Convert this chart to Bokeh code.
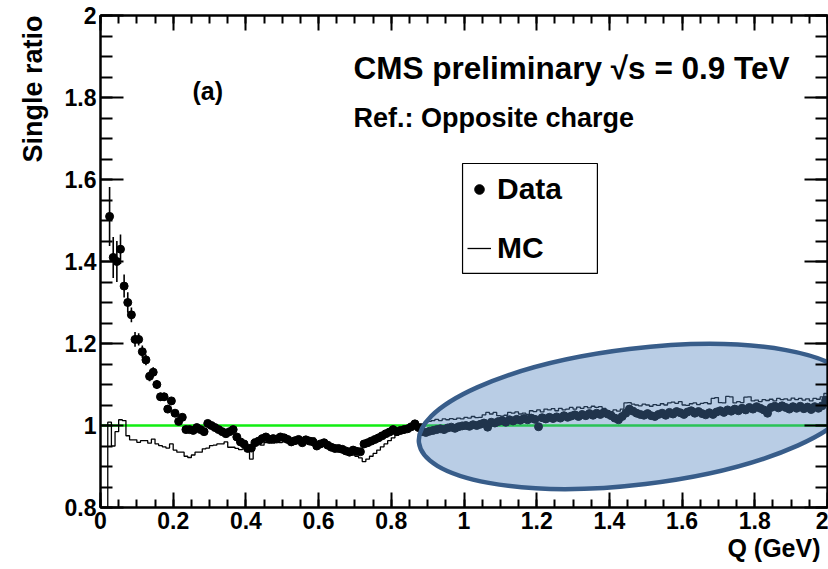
import numpy as np
from bokeh.plotting import figure
from bokeh.models import (Range1d, LinearAxis, SingleIntervalTicker, CustomJSTickFormatter,
                          Span, Label, BoxAnnotation, Legend, LegendItem, Title)
from bokeh.embed import file_html
from bokeh.resources import INLINE

# ---------------- data ----------------
bin_width = 0.01
data_first_edge = 0.02          # first data bin: 0.02-0.03 GeV
data_ratio = [
    1.51, 1.41, 1.40, 1.43, 1.34, 1.30, 1.27, 1.21,
    1.21, 1.18, 1.16, 1.12, 1.13, 1.10, 1.07, 1.07, 1.04, 1.06,
    1.03, 1.01, 1.02, 0.990, 0.990, 0.988, 0.995, 0.990, 0.985, 1.005,
    1.000, 0.995, 0.990, 0.985, 0.980, 0.985, 0.990, 0.972, 0.960, 0.955,
    0.944, 0.945, 0.958, 0.962, 0.968, 0.972, 0.966, 0.968, 0.967, 0.972,
    0.970, 0.966, 0.960, 0.963, 0.966, 0.958, 0.965, 0.962, 0.960, 0.950,
    0.955, 0.958, 0.952, 0.947, 0.944, 0.944, 0.942, 0.938, 0.935, 0.940,
    0.937, 0.936, 0.955, 0.958, 0.962, 0.966, 0.970, 0.975, 0.980, 0.984,
    0.990, 0.985, 0.988, 0.990, 0.992, 0.997, 1.004, 0.995, 0.985, 0.983,
    0.986, 0.988, 0.990, 0.992, 0.990, 0.994, 0.996, 0.993, 0.997, 0.999,
    1.000, 0.998, 1.002, 1.000, 1.003, 1.006, 0.996, 1.008, 1.006, 1.010,
    1.012, 1.008, 1.014, 1.011, 1.015, 1.013, 1.017, 1.014, 1.018, 1.015,
    0.997, 1.019, 1.016, 1.020, 1.017, 1.021, 1.018, 1.024, 1.020, 1.023,
    1.026, 1.022, 1.027, 1.024, 1.029, 1.025, 1.030, 1.027, 1.032, 1.028,
    1.024, 1.018, 1.014, 1.022, 1.030, 1.040, 1.035, 1.030, 1.027, 1.025,
    1.029, 1.024, 1.022, 1.027, 1.030, 1.025, 1.032, 1.028, 1.034, 1.031,
    1.027, 1.033, 1.036, 1.030, 1.034, 1.029, 1.026, 1.031, 1.027, 1.033,
    1.036, 1.032, 1.038, 1.035, 1.040, 1.036, 1.042, 1.038, 1.044, 1.040,
    1.046, 1.042, 1.038, 1.030, 1.044, 1.047, 1.043, 1.048, 1.044, 1.040,
    1.046, 1.042, 1.047, 1.041, 1.045, 1.039, 1.046, 1.042, 1.048, 1.062,
]
# statistical errors of the first bins (later ones are hidden by the markers)
data_err = [0.072, 0.050, 0.050, 0.036, 0.028, 0.025, 0.018, 0.018,
            0.015, 0.015, 0.013, 0.012, 0.012, 0.011, 0.010, 0.010,
            0.009, 0.009, 0.008, 0.008]

mc_first_edge = 0.01            # first MC bin: 0.01-0.02 GeV (empty)
mc_ratio = [
    0.0,
    1.008, 0.950, 0.985, 1.014, 1.012, 0.975, 0.965, 0.965, 0.959, 0.963,
    0.963, 0.957, 0.967, 0.955, 0.951, 0.948, 0.945, 0.955, 0.940, 0.935,
    0.935, 0.925, 0.922, 0.928, 0.935, 0.935, 0.943, 0.945, 0.951, 0.952,
    0.955, 0.955, 0.960, 0.947, 0.947, 0.944, 0.941, 0.943, 0.940, 0.918,
    0.955, 0.957, 0.952, 0.958, 0.960, 0.957, 0.962, 0.958, 0.960, 0.965,
    0.962, 0.967, 0.963, 0.968, 0.972, 0.967, 0.970, 0.958, 0.955, 0.952,
    0.947, 0.945, 0.943, 0.941, 0.937, 0.935, 0.932, 0.928, 0.925, 0.921,
    0.912, 0.918, 0.925, 0.932, 0.940, 0.948, 0.955, 0.963, 0.970, 0.976,
    0.980, 0.984, 0.988, 0.990, 0.994, 1.000, 1.004, 1.008, 1.010, 1.012,
    1.015, 1.012, 1.016, 1.014, 1.017, 1.015, 1.018, 1.016, 1.020, 1.018,
    1.022, 1.019, 1.020, 1.026, 1.032, 1.028, 1.032, 1.024, 1.023, 1.025,
    1.032, 1.030, 1.033, 1.028, 1.030, 1.027, 1.036, 1.034, 1.038, 1.033,
    1.040, 1.038, 1.041, 1.036, 1.042, 1.038, 1.040, 1.044, 1.040, 1.045,
    1.042, 1.046, 1.043, 1.047, 1.044, 1.046, 1.042, 1.036, 1.034, 1.038,
    1.035, 1.040, 1.055, 1.056, 1.052, 1.050, 1.048, 1.052, 1.050, 1.047,
    1.051, 1.049, 1.053, 1.050, 1.055, 1.057, 1.054, 1.058, 1.050, 1.049,
    1.053, 1.055, 1.051, 1.054, 1.056, 1.053, 1.066, 1.068, 1.056, 1.055,
    1.071, 1.070, 1.055, 1.058, 1.056, 1.069, 1.070, 1.060, 1.062, 1.058,
    1.063, 1.061, 1.064, 1.060, 1.066, 1.063, 1.065, 1.062, 1.067, 1.063,
    1.066, 1.062, 1.065, 1.060, 1.066, 1.064, 1.070, 1.078,
]
reference_level = 1.0
x_limits = (0.0, 2.0)
y_limits = (0.8, 2.0)
tick_step = 0.2
x_title = "Q (GeV)"
y_title = "Single ratio"

# ---------------- styles ----------------
FONT = "Liberation Sans"
GREEN = "#11ee11"

p = figure(width=828, height=569, x_range=Range1d(*x_limits), y_range=Range1d(*y_limits),
           output_backend="svg", toolbar_location=None,
           min_border_left=100, min_border_right=1, min_border_top=15, min_border_bottom=62)
p.xaxis.visible = False
p.yaxis.visible = False
p.grid.visible = False
p.outline_line_color = "black"
p.outline_line_width = 2
p.background_fill_color = "white"
p.border_fill_color = "white"

fmt = CustomJSTickFormatter(code="var s = tick.toFixed(1); return s.endsWith('.0') ? s.slice(0, -2) : s;")
blank = CustomJSTickFormatter(code="return '';")


def make_axis(major_in, minor_in, show_labels):
    ax = LinearAxis(ticker=SingleIntervalTicker(interval=tick_step, num_minor_ticks=4),
                    formatter=fmt if show_labels else blank)
    ax.major_tick_in = major_in
    ax.major_tick_out = 0
    ax.minor_tick_in = minor_in
    ax.minor_tick_out = 0
    ax.axis_line_color = "black"
    ax.axis_line_width = 2
    ax.major_tick_line_width = 2
    ax.minor_tick_line_width = 2
    ax.major_tick_line_color = "black"
    ax.minor_tick_line_color = "black"
    ax.major_label_text_font = FONT
    ax.major_label_text_font_style = "bold"
    ax.major_label_text_font_size = "23px"
    ax.major_label_text_color = "black"
    ax.major_label_standoff = 4 if show_labels else 0
    return ax


p.add_layout(make_axis(15, 8, True), "below")
p.add_layout(make_axis(23, 12, True), "left")
p.add_layout(make_axis(15, 8, False), "above")
p.add_layout(make_axis(23, 12, False), "right")

# axis titles (ROOT style: at the far end of each axis)
p.add_layout(Title(text=x_title, align="right", offset=7, standoff=0,
                   text_font=FONT, text_font_style="bold", text_font_size="25px",
                   text_color="black"), "below")
p.add_layout(Title(text=y_title, align="right", offset=0, standoff=27,
                   text_font=FONT, text_font_style="bold", text_font_size="27px",
                   text_color="black"), "left")

# reference line at ratio = 1
span = Span(location=reference_level, dimension="width", line_color=GREEN, line_width=2.5)
span.level = "underlay"
p.add_layout(span)

# MC histogram (step line built from the bin values)
mc_lo = mc_first_edge + bin_width * np.arange(len(mc_ratio))
mc_x = np.column_stack([mc_lo, mc_lo + bin_width]).ravel()
mc_y = np.repeat(mc_ratio, 2)
r_mc = p.line(mc_x, mc_y, line_color="black", line_width=1.3)

# data points with error bars
centers = data_first_edge + bin_width * (np.arange(len(data_ratio)) + 0.5)
n_err = len(data_err)
vals = np.array(data_ratio[:n_err])
errs = np.array(data_err)
p.segment(x0=centers[:n_err], y0=vals - errs, x1=centers[:n_err], y1=vals + errs,
          line_color="black", line_width=1.6)
r_data = p.scatter(centers, data_ratio, size=8, fill_color="black", line_color="black")

# highlighted region (overlay ellipse)
p.ellipse(x=[1.477], y=[1.022], width=[440], height=[136], angle=[0.12],
          width_units="screen", height_units="screen",
          fill_color="#4F81BD", fill_alpha=0.4, line_color="#385D8A", line_width=4.5)

# legend frame + legend
p.add_layout(BoxAnnotation(left=0.996, right=1.367, top=1.639, bottom=1.371,
                           fill_color="white", fill_alpha=1.0,
                           line_color="black", line_alpha=1.0, line_width=1.2))
legend = Legend(items=[LegendItem(label="Data", renderers=[r_data]),
                       LegendItem(label="MC", renderers=[r_mc])],
                location=(367, 242), glyph_width=24, glyph_height=30, label_height=30,
                label_standoff=6, spacing=25, padding=0, margin=0,
                border_line_alpha=0, background_fill_alpha=0,
                label_text_font=FONT, label_text_font_style="bold",
                label_text_font_size="30px", label_text_color="black")
p.add_layout(legend)

# texts inside the frame
def add_text(text, x, y, size):
    p.add_layout(Label(x=x, y=y, text=text, text_font=FONT, text_font_style="bold",
                       text_font_size=size, text_color="black", text_align="left",
                       text_baseline="alphabetic"))

add_text("CMS preliminary \u221as = 0.9 TeV", 0.696, 1.873, "31.5px")
add_text("Ref.: Opposite charge", 0.696, 1.749, "27px")
add_text("(a)", 0.253, 1.815, "25px")

open("out.html", "w").write(file_html(p, INLINE))
